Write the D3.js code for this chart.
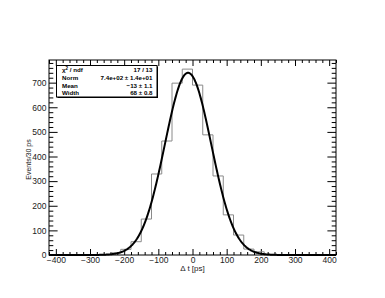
<!DOCTYPE html>
<html>
<head>
<meta charset="utf-8">
<script src="https://cdn.jsdelivr.net/npm/d3@7"></script>
<style>
  body { margin: 0; background: #fff; }
  svg { display: block; }
  .tick text { font-family: "Liberation Sans", Arial, sans-serif; font-size: 8.5px; fill: #222; }
  .tick line { stroke: #000; stroke-width: 1px; }
  .domain { display: none; }
</style>
</head>
<body>
<svg width="385" height="298"></svg>
<script>
// ~~~~~~ DATA ~~~~~~

// histogram: 28 bins of 30 ps from -420 to 420
var binEdges = d3.range(-420, 421, 30);
var counts = [0, 0, 0, 0, 1, 2, 9, 23, 54, 146, 329, 463, 698, 755,
              690, 488, 321, 163, 81, 24, 13, 2, 1, 0, 0, 0, 0, 0];

// gaussian fit from the stats box: norm, mean, width
var fitParams = [740, -13, 68];

var xMajor = d3.range(-400, 401, 100);
var yMajor = d3.range(0, 701, 100);

var statsLabels = ["χ", "Norm", "Mean", "Width"];
var statsValues = ["17 / 13", "7.4e+02 \u00b1 1.4e+01", "\u221213 \u00b1 1.1", "68 \u00b1 0.8"];

// ~~~~~~ SVG ~~~~~~
var svg = d3.select("svg"),
    margin = {top: 60, right: 49, bottom: 43, left: 49},
    width = +svg.attr("width") - margin.left - margin.right,
    height = +svg.attr("height") - margin.top - margin.bottom;

var main_g = svg.append("g")
    .attr("transform", "translate(" + margin.left + "," + margin.top + ")");

// ~~~~~~ SCALES ~~~~~~
var x = d3.scaleLinear().domain([-420, 420]).range([0, width]);
var y = d3.scaleLinear().domain([0, 792]).range([height, 0]);

var xMinor = d3.range(-420, 421, 20).filter(function(d) { return d % 100 !== 0; });
var yMinor = d3.range(0, 792, 20).filter(function(d) { return d % 100 !== 0; });

// ~~~~~~ AXES (ticks point inward, ROOT style) ~~~~~~
var xTick = 6, yTick = 8.6;

main_g.append("g")
    .attr("transform", "translate(0," + height + ")")
    .call(d3.axisBottom(x).tickValues(xMajor).tickSize(-xTick).tickPadding(1.5));
main_g.append("g")
    .attr("transform", "translate(0," + height + ")")
    .call(d3.axisBottom(x).tickValues(xMinor).tickSize(-xTick / 2).tickFormat(""));
main_g.append("g")
    .call(d3.axisTop(x).tickValues(xMajor).tickSize(-xTick).tickFormat(""));
main_g.append("g")
    .call(d3.axisTop(x).tickValues(xMinor).tickSize(-xTick / 2).tickFormat(""));

main_g.append("g")
    .call(d3.axisLeft(y).tickValues(yMajor).tickSize(-yTick).tickPadding(2.5));
main_g.append("g")
    .call(d3.axisLeft(y).tickValues(yMinor).tickSize(-yTick / 2).tickFormat(""));
main_g.append("g")
    .attr("transform", "translate(" + width + ",0)")
    .call(d3.axisRight(y).tickValues(yMajor).tickSize(-yTick).tickFormat(""));
main_g.append("g")
    .attr("transform", "translate(" + width + ",0)")
    .call(d3.axisRight(y).tickValues(yMinor).tickSize(-yTick / 2).tickFormat(""));

// axis titles
main_g.append("text")
    .attr("x", width / 2)
    .attr("y", height + 16)
    .attr("text-anchor", "middle")
    .style("font", "8px 'Liberation Sans', Arial, sans-serif")
    .attr("fill", "#222")
    .text("\u0394 t [ps]");

main_g.append("text")
    .attr("transform", "translate(-18.5," + (height / 2 + 2) + ") rotate(-90)")
    .attr("text-anchor", "middle")
    .style("font", "7px 'Liberation Sans', Arial, sans-serif")
    .attr("fill", "#222")
    .text("Events/30 ps");

// ~~~~~~ HISTOGRAM ~~~~~~
var steps = [];
counts.forEach(function(c, i) {
    steps.push([binEdges[i], c]);
    steps.push([binEdges[i + 1], c]);
});

var drawLine = d3.line()
    .x(function(d) { return x(d[0]); })
    .y(function(d) { return y(d[1]); });

main_g.append("path")
    .attr("d", drawLine(steps))
    .attr("fill", "none")
    .style("stroke", "#8a8a8a")
    .style("stroke-width", "1px");

// ~~~~~~ FIT CURVE ~~~~~~
var fitPts = d3.range(-420, 420.5, 2).map(function(t) {
    var z = (t - fitParams[1]) / fitParams[2];
    return [t, fitParams[0] * Math.exp(-0.5 * z * z)];
});

main_g.append("path")
    .attr("d", drawLine(fitPts))
    .attr("fill", "none")
    .style("stroke", "#000")
    .style("stroke-width", "2px");

// frame
main_g.append("rect")
    .attr("x", 0).attr("y", 0)
    .attr("width", width).attr("height", height)
    .attr("fill", "none")
    .style("stroke", "#000")
    .style("stroke-width", 1);

// ~~~~~~ STATS BOX ~~~~~~
var box = svg.append("g").attr("transform", "translate(56.5,65.5)");
var bw = 100.5, bh = 31.5;

box.append("rect")
    .attr("x", 1).attr("y", 1)
    .attr("width", bw).attr("height", bh)
    .attr("fill", "#000");
box.append("rect")
    .attr("width", bw).attr("height", bh)
    .attr("fill", "#fff")
    .style("stroke", "#000")
    .style("stroke-width", 1);

box.selectAll(".slabel")
    .data(statsLabels)
    .enter()
    .append("text")
    .attr("class", "slabel")
    .attr("x", 5.5)
    .attr("y", function(d, i) { return 6.9 + i * 7.6; })
    .style("font", "bold 6.2px 'Liberation Sans', Arial, sans-serif")
    .attr("fill", "#000")
    .each(function(d, i) {
        var t = d3.select(this);
        if (i === 0) {
            t.append("tspan").text("\u03c7");
            t.append("tspan").attr("dy", -2.5).style("font-size", "4.5px").text("2");
            t.append("tspan").attr("dy", 2.5).text(" / ndf");
        } else {
            t.text(d);
        }
    });

box.selectAll(".svalue")
    .data(statsValues)
    .enter()
    .append("text")
    .attr("class", "svalue")
    .attr("x", 96)
    .attr("y", function(d, i) { return 6.9 + i * 7.6; })
    .attr("text-anchor", "end")
    .style("font", "bold 6.2px 'Liberation Sans', Arial, sans-serif")
    .attr("fill", "#000")
    .text(function(d) { return d; });
</script>
</body>
</html>
